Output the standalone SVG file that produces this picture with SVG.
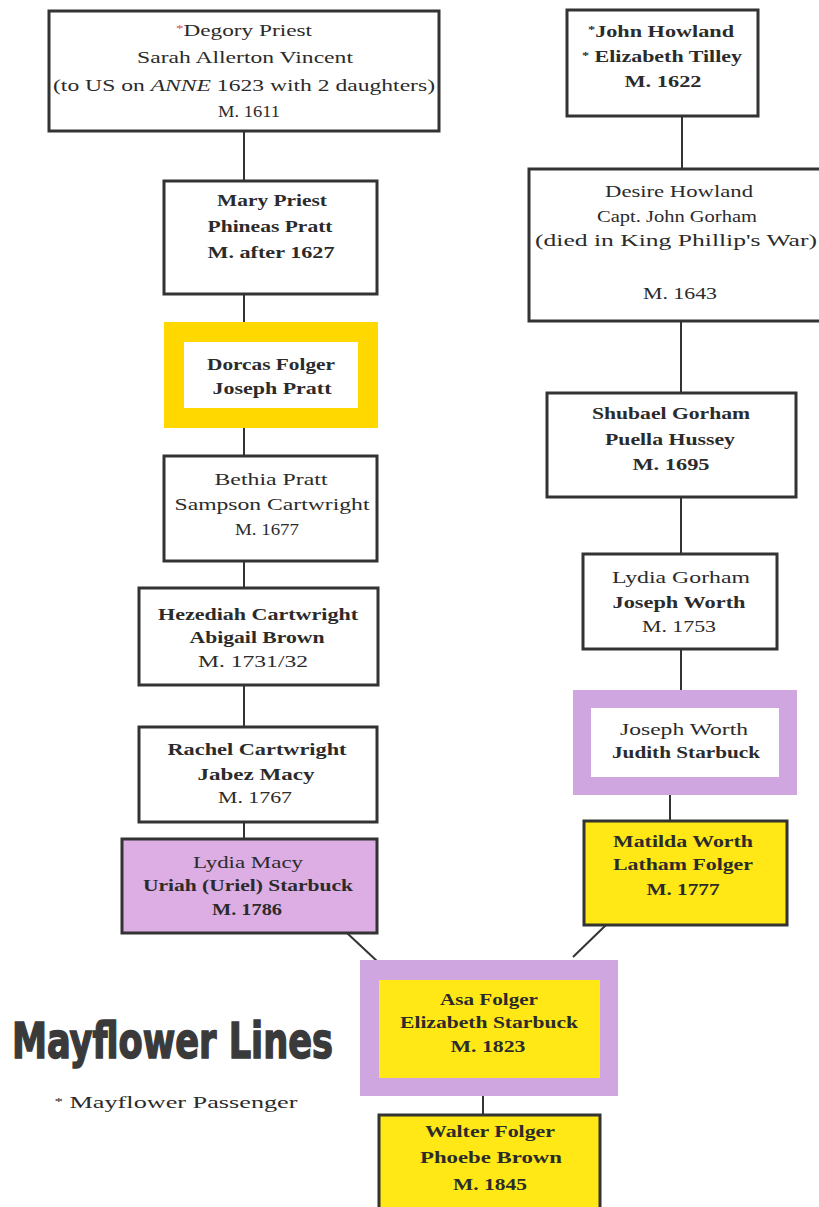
<svg xmlns="http://www.w3.org/2000/svg" width="819" height="1207" viewBox="0 0 819 1207">
<style>
  .box{fill:#ffffff;stroke:#333333;stroke-width:3}
  .ybox{fill:#ffe815;stroke:#333333;stroke-width:3}
  .lbox{fill:#dcaee4;stroke:#333333;stroke-width:3}
  .yframe{fill:#ffffff;stroke:#ffd800;stroke-width:20}
  .lframe{fill:#ffffff;stroke:#cfa6e0;stroke-width:18}
  text{font-family:"Liberation Serif","Times New Roman",serif;font-size:17px;fill:#2b2b2b;text-anchor:middle}
  .b{font-weight:bold}
  .ast{font-size:11px}
  .red{fill:#e04848}
  #connectors line{stroke:#333333;stroke-width:2}
  .title{font-family:"DejaVu Sans Condensed","DejaVu Sans","Liberation Sans",sans-serif;font-weight:bold;font-size:40px;fill:#3a3a3a;stroke:#3a3a3a;stroke-width:1.2;text-anchor:start}
</style>
<rect width="819" height="1207" fill="#ffffff"/>
<g id="connectors">
  <line x1="244" y1="131" x2="244" y2="181"/>
  <line x1="244" y1="294" x2="244" y2="322"/>
  <line x1="244" y1="428" x2="244" y2="456"/>
  <line x1="244" y1="561" x2="244" y2="588"/>
  <line x1="244" y1="685" x2="244" y2="727"/>
  <line x1="244" y1="822" x2="244" y2="839"/>
  <line x1="682" y1="116" x2="682" y2="169"/>
  <line x1="681" y1="321" x2="681" y2="393"/>
  <line x1="681" y1="497" x2="681" y2="554"/>
  <line x1="681" y1="649" x2="681" y2="690"/>
  <line x1="670" y1="795" x2="670" y2="821"/>
  <line x1="347" y1="933" x2="378" y2="962"/>
  <line x1="606" y1="925" x2="573" y2="957"/>
  <line x1="483" y1="1096" x2="483" y2="1115"/>
</g>
<g id="degory">
  <rect class="box" x="49" y="11" width="390" height="120"/>
  <text x="244" y="36" textLength="136" lengthAdjust="spacingAndGlyphs"><tspan class="ast red" dy="-4">*</tspan><tspan dy="4">Degory Priest</tspan></text>
  <text x="245" y="63" textLength="216" lengthAdjust="spacingAndGlyphs">Sarah Allerton Vincent</text>
  <text x="244" y="91" textLength="382" lengthAdjust="spacingAndGlyphs">(to US on <tspan font-style="italic">ANNE</tspan>  1623 with 2 daughters)</text>
  <text x="249" y="117" textLength="62" lengthAdjust="spacingAndGlyphs">M. 1611</text>
</g>
<g id="howland">
  <rect class="box" x="567" y="10" width="191" height="106"/>
  <text class="b" x="661" y="37" textLength="146" lengthAdjust="spacingAndGlyphs"><tspan class="ast" dy="-4">*</tspan><tspan dy="4">John Howland</tspan></text>
  <text class="b" x="662" y="62" textLength="160" lengthAdjust="spacingAndGlyphs"><tspan class="ast" dy="-3">*</tspan><tspan dy="3"> Elizabeth Tilley</tspan></text>
  <text class="b" x="663" y="87" textLength="77" lengthAdjust="spacingAndGlyphs">M. 1622</text>
</g>
<g id="desire">
  <rect class="box" x="529" y="169" width="294" height="152"/>
  <text x="679" y="197" textLength="148" lengthAdjust="spacingAndGlyphs">Desire Howland</text>
  <text x="677" y="222" textLength="160" lengthAdjust="spacingAndGlyphs">Capt. John Gorham</text>
  <text x="676" y="246" textLength="282" lengthAdjust="spacingAndGlyphs">(died in King Phillip's War)</text>
  <text x="680" y="299" textLength="74" lengthAdjust="spacingAndGlyphs">M. 1643</text>
</g>
<g id="mary">
  <rect class="box" x="164" y="181" width="213" height="113"/>
  <text class="b" x="272" y="206" textLength="110" lengthAdjust="spacingAndGlyphs">Mary Priest</text>
  <text class="b" x="270" y="232" textLength="125" lengthAdjust="spacingAndGlyphs">Phineas Pratt</text>
  <text class="b" x="271" y="258" textLength="127" lengthAdjust="spacingAndGlyphs">M. after 1627</text>
</g>
<g id="dorcas">
  <rect class="yframe" x="174" y="332" width="194" height="86"/>
  <text class="b" x="271" y="370" textLength="128" lengthAdjust="spacingAndGlyphs">Dorcas Folger</text>
  <text class="b" x="272" y="394" textLength="119" lengthAdjust="spacingAndGlyphs">Joseph Pratt</text>
</g>
<g id="bethia">
  <rect class="box" x="164" y="456" width="213" height="105"/>
  <text x="271" y="485" textLength="113" lengthAdjust="spacingAndGlyphs">Bethia Pratt</text>
  <text x="272" y="510" textLength="195" lengthAdjust="spacingAndGlyphs">Sampson Cartwright</text>
  <text x="267" y="535" textLength="64" lengthAdjust="spacingAndGlyphs">M. 1677</text>
</g>
<g id="hezediah">
  <rect class="box" x="139" y="588" width="239" height="97"/>
  <text class="b" x="258" y="620" textLength="200" lengthAdjust="spacingAndGlyphs">Hezediah Cartwright</text>
  <text class="b" x="257" y="643" textLength="135" lengthAdjust="spacingAndGlyphs">Abigail Brown</text>
  <text x="253" y="667" textLength="110" lengthAdjust="spacingAndGlyphs">M. 1731/32</text>
</g>
<g id="rachel">
  <rect class="box" x="139" y="727" width="238" height="95"/>
  <text class="b" x="257" y="755" textLength="179" lengthAdjust="spacingAndGlyphs">Rachel Cartwright</text>
  <text class="b" x="256" y="780" textLength="117" lengthAdjust="spacingAndGlyphs">Jabez  Macy</text>
  <text x="255" y="803" textLength="74" lengthAdjust="spacingAndGlyphs">M. 1767</text>
</g>
<g id="lydia-macy">
  <rect class="lbox" x="122" y="839" width="255" height="94"/>
  <text x="248" y="868" textLength="110" lengthAdjust="spacingAndGlyphs">Lydia Macy</text>
  <text class="b" x="248" y="891" textLength="210" lengthAdjust="spacingAndGlyphs">Uriah (Uriel) Starbuck</text>
  <text class="b" x="247" y="915" textLength="70" lengthAdjust="spacingAndGlyphs">M. 1786</text>
</g>
<g id="shubael">
  <rect class="box" x="547" y="393" width="249" height="104"/>
  <text class="b" x="671" y="419" textLength="158" lengthAdjust="spacingAndGlyphs">Shubael Gorham</text>
  <text class="b" x="670" y="445" textLength="130" lengthAdjust="spacingAndGlyphs">Puella Hussey</text>
  <text class="b" x="671" y="470" textLength="77" lengthAdjust="spacingAndGlyphs">M. 1695</text>
</g>
<g id="lydia-gorham">
  <rect class="box" x="583" y="554" width="194" height="95"/>
  <text x="681" y="583" textLength="138" lengthAdjust="spacingAndGlyphs">Lydia Gorham</text>
  <text class="b" x="679" y="608" textLength="133" lengthAdjust="spacingAndGlyphs">Joseph Worth</text>
  <text x="679" y="632" textLength="74" lengthAdjust="spacingAndGlyphs">M. 1753</text>
</g>
<g id="joseph-worth">
  <rect class="lframe" x="582" y="699" width="206" height="87"/>
  <text x="684" y="735" textLength="128" lengthAdjust="spacingAndGlyphs">Joseph Worth</text>
  <text class="b" x="686" y="758" textLength="148" lengthAdjust="spacingAndGlyphs">Judith Starbuck</text>
</g>
<g id="matilda">
  <rect class="ybox" x="584" y="821" width="203" height="104"/>
  <text class="b" x="683" y="847" textLength="140" lengthAdjust="spacingAndGlyphs">Matilda Worth</text>
  <text class="b" x="683" y="870" textLength="140" lengthAdjust="spacingAndGlyphs">Latham Folger</text>
  <text class="b" x="683" y="895" textLength="73" lengthAdjust="spacingAndGlyphs">M. 1777</text>
</g>
<g id="asa">
  <rect x="360" y="960" width="258" height="136" fill="#cfa6e0"/>
  <rect x="379" y="980" width="221" height="98" fill="#ffe815"/>
  <text class="b" x="489" y="1005" textLength="98" lengthAdjust="spacingAndGlyphs">Asa Folger</text>
  <text class="b" x="489" y="1028" textLength="178" lengthAdjust="spacingAndGlyphs">Elizabeth Starbuck</text>
  <text class="b" x="488" y="1052" textLength="75" lengthAdjust="spacingAndGlyphs">M. 1823</text>
</g>
<g id="walter">
  <rect class="ybox" x="379" y="1115" width="221" height="97"/>
  <text class="b" x="490" y="1137" textLength="130" lengthAdjust="spacingAndGlyphs">Walter Folger</text>
  <text class="b" x="491" y="1163" textLength="142" lengthAdjust="spacingAndGlyphs">Phoebe Brown</text>
  <text class="b" x="490" y="1190" textLength="74" lengthAdjust="spacingAndGlyphs">M. 1845</text>
</g>
<g id="legend">
  <text class="title" transform="translate(12,1058) scale(1,1.25)" x="0" y="0" textLength="321" lengthAdjust="spacingAndGlyphs">Mayflower Lines</text>
  <text x="176" y="1108" textLength="243" lengthAdjust="spacingAndGlyphs"><tspan class="ast" dy="-3">*</tspan><tspan dy="3"> Mayflower Passenger</tspan></text>
</g>
</svg>
